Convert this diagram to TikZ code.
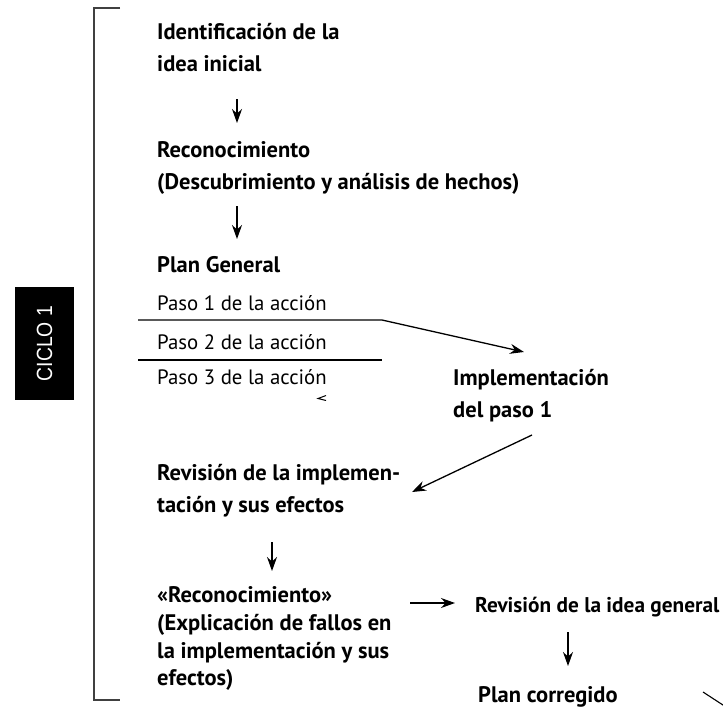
\documentclass[tikz,border=0pt]{standalone}
\usepackage{fontspec}
\usetikzlibrary{arrows.meta}
\newfontfamily\mf{PT Sans}
\newfontfamily\cf[FakeStretch=0.88]{Liberation Sans}
\begin{document}
\begin{tikzpicture}[x=1pt,y=-1pt,
  bt/.style={anchor=base west,inner sep=0pt,font=\mf\bfseries\fontsize{22.5}{32}\selectfont},
  rt/.style={anchor=base west,inner sep=0pt,font=\mf\fontsize{20.8}{32}\selectfont},
  arr/.style={-{Stealth[length=14pt,width=10pt]},line width=1.3pt},
  rule/.style={line width=1.1pt}]
\useasboundingbox (0,0) rectangle (723,709);
% bracket
\draw[line width=1.3pt,black!75] (120,8) -- (94,8) -- (94,700) -- (120,700);
% cycle label
\node[fill=black,text=white,rotate=90,minimum width=113pt,minimum height=59pt,inner sep=0pt,
  font=\cf\fontsize{22}{26}\selectfont] (ciclo) at (44.5,343.5) {CICLO 1};
% block 1
\node[bt] (id1) at (157,40) {Identificación de la};
\node[bt] (id2) at (157,72) {idea inicial};
\coordinate (a1s) at (237,99); \coordinate (a1e) at (237,123);
\draw[arr] (a1s) -- (a1e);
% block 2
\node[bt] (rc1) at (157,157) {Reconocimiento};
\node[bt] (rc2) at (157,189) {(Descubrimiento y análisis de hechos)};
\coordinate (a2s) at (237,206); \coordinate (a2e) at (237,239);
\draw[arr] (a2s) -- (a2e);
% plan general
\node[bt] (pg) at (157,272) {Plan General};
\node[rt] (p1) at (157,310) {Paso 1 de la acción};
\node[rt] (p2) at (157,349) {Paso 2 de la acción};
\node[rt] (p3) at (157,384) {Paso 3 de la acción};
\coordinate (l1a) at (138,320); \coordinate (l1b) at (382,320);
\coordinate (l2a) at (138,360); \coordinate (l2b) at (382,360);
\draw[rule] (l2a) -- (l2b);
% implementation
\node[bt] (im1) at (453,385) {Implementación};
\node[bt] (im2) at (453,417) {del paso 1};
\coordinate (a3e) at (524,352);
\draw[arr] (l1a) -- (l1b) -- (a3e);
% small mark
\draw[line width=1pt] (326,395.5) -- (318,398.5) -- (326,400.5);
% review
\node[bt] (rv1) at (157,480) {Revisión de la implemen-};
\node[bt] (rv2) at (157,512) {tación y sus efectos};
\coordinate (a4s) at (532,435); \coordinate (a4e) at (412,492);
\draw[arr] (a4s) -- (a4e);
\coordinate (a5s) at (272,542); \coordinate (a5e) at (272,571);
\draw[arr] (a5s) -- (a5e);
% reconocimiento 2
\node[bt] (r21) at (157,602) {«Reconocimiento»};
\node[bt] (r22) at (157,630) {(Explicación de fallos en};
\node[bt] (r23) at (157,658) {la implementación y sus};
\node[bt] (r24) at (157,685) {efectos)};
\coordinate (a6s) at (410,603); \coordinate (a6e) at (455,603);
\draw[arr] (a6s) -- (a6e);
\node[bt,font=\mf\bfseries\fontsize{21.3}{32}\selectfont] (ig) at (475,612) {Revisión de la idea general};
\coordinate (a7s) at (568,632); \coordinate (a7e) at (568,666);
\draw[arr] (a7s) -- (a7e);
\node[bt] (pc) at (478,702) {Plan corregido};
\coordinate (stubs) at (703,692); \coordinate (stube) at (726,707);
\draw[line width=1.1pt] (stubs) -- (stube);
\end{tikzpicture}
\end{document}
